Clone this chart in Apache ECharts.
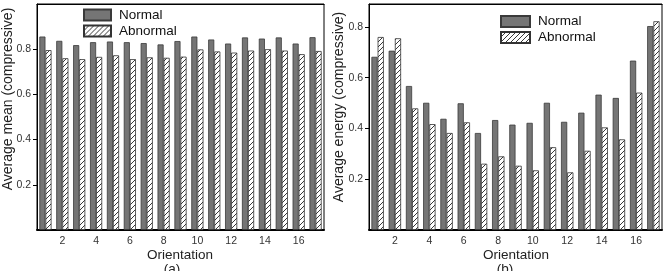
<!DOCTYPE html>
<html>
<head>
<meta charset="utf-8">
<script src="https://cdn.jsdelivr.net/npm/echarts@6/dist/echarts.min.js"></script>
<style>
html, body { margin: 0; padding: 0; background: #fff; }
#chart { width: 667px; height: 271px; }
</style>
</head>
<body>
<div id="chart"></div>
<script>
// orientation index 1..17
var orientations = ['1','2','3','4','5','6','7','8','9','10','11','12','13','14','15','16','17'];
// (a) average mean
var meanNormal   = [0.856,0.837,0.818,0.831,0.834,0.831,0.827,0.821,0.836,0.856,0.843,0.825,0.852,0.847,0.852,0.825,0.853];
var meanAbnormal = [0.796,0.760,0.756,0.766,0.773,0.756,0.764,0.762,0.767,0.799,0.790,0.785,0.794,0.800,0.794,0.778,0.792];
// (b) average energy
var energyNormal   = [0.682,0.706,0.567,0.501,0.438,0.499,0.382,0.433,0.415,0.422,0.501,0.426,0.462,0.533,0.520,0.667,0.803];
var energyAbnormal = [0.760,0.755,0.479,0.417,0.382,0.424,0.261,0.290,0.253,0.235,0.326,0.227,0.312,0.404,0.357,0.541,0.822];
var yTicks = [0.2, 0.4, 0.6, 0.8];

var FONT = 'Liberation Sans';

// hatch pattern for abnormal bars
function makeHatch() {
  var c = document.createElement('canvas');
  c.width = 5; c.height = 5;
  var ctx = c.getContext('2d');
  ctx.fillStyle = '#fff';
  ctx.fillRect(0, 0, 5, 5);
  ctx.strokeStyle = '#222';
  ctx.lineWidth = 0.9;
  ctx.beginPath();
  ctx.moveTo(-1, 6); ctx.lineTo(6, -1);
  ctx.moveTo(-1, 1); ctx.lineTo(1, -1);
  ctx.moveTo(4, 6); ctx.lineTo(6, 4);
  ctx.stroke();
  return c;
}
var hatch = { image: makeHatch(), repeat: 'repeat' };

var normalStyle = { color: '#757575', borderColor: '#3a3a3a', borderWidth: 0.8 };
var abnormalStyle = { color: hatch, borderColor: '#333', borderWidth: 0.8 };

function bottomAxis(grid) {
  return {
    type: 'category', gridIndex: grid, data: orientations,
    axisLine: { lineStyle: { color: '#000', width: 2 } },
    axisTick: { show: false },
    axisLabel: {
      interval: 0, margin: 6, color: '#333', fontSize: 10.5, fontFamily: FONT,
      formatter: function (v) { return (+v) % 2 === 0 ? v : ''; }
    }
  };
}
function topAxis(grid) {
  return {
    type: 'category', gridIndex: grid, position: 'top', data: orientations,
    axisLine: { lineStyle: { color: '#000', width: 1 } },
    axisTick: { inside: true, length: 3, alignWithLabel: true, interval: 0, lineStyle: { color: '#000' } },
    axisLabel: { show: false }
  };
}
function leftAxis(grid, max) {
  return {
    type: 'value', gridIndex: grid, min: 0, max: max,
    splitLine: { show: false },
    axisLine: { show: true, lineStyle: { color: '#000', width: 1 } },
    axisTick: { show: true, length: 4, customValues: yTicks, lineStyle: { color: '#000' } },
    axisLabel: {
      margin: 6, color: '#333', fontSize: 10.5, fontFamily: FONT, customValues: yTicks,
      formatter: function (v) { return v.toFixed(1); }
    }
  };
}

function legendAt(left, top, w) {
  return {
    left: left, top: top, padding: 0, orient: 'vertical', itemWidth: w, itemHeight: 11, itemGap: 2,
    icon: 'rect', data: ['Normal', 'Abnormal'],
    textStyle: { fontSize: 13.5, color: '#111', fontFamily: FONT, padding: [0, 0, 0, 3] }
  };
}

var chart = echarts.init(document.getElementById('chart'));
chart.setOption({
  animation: false,
  textStyle: { fontFamily: FONT },
  grid: [
    { left: 37, top: 4, width: 287, height: 226, show: true, borderColor: '#000', borderWidth: 1 },
    { left: 369, top: 4, width: 293, height: 226, show: true, borderColor: '#000', borderWidth: 1 }
  ],
  legend: [legendAt(83, 8, 27), legendAt(500, 14.5, 29)],
  xAxis: [bottomAxis(0), topAxis(0), bottomAxis(1), topAxis(1)],
  yAxis: [leftAxis(0, 1.0), leftAxis(1, 0.89)],
  series: [
    { name: 'Normal', type: 'bar', xAxisIndex: 0, yAxisIndex: 0, data: meanNormal,
      barGap: '0%', barCategoryGap: '28%', itemStyle: normalStyle },
    { name: 'Abnormal', type: 'bar', xAxisIndex: 0, yAxisIndex: 0, data: meanAbnormal,
      barGap: '0%', barCategoryGap: '28%', itemStyle: abnormalStyle },
    { name: 'Normal', type: 'bar', xAxisIndex: 2, yAxisIndex: 1, data: energyNormal,
      barGap: '0%', barCategoryGap: '28%', itemStyle: normalStyle },
    { name: 'Abnormal', type: 'bar', xAxisIndex: 2, yAxisIndex: 1, data: energyAbnormal,
      barGap: '0%', barCategoryGap: '28%', itemStyle: abnormalStyle }
  ],
  graphic: [
    { type: 'text', x: 8, y: 99, rotation: Math.PI / 2,
      style: { text: 'Average mean (compressive)', font: '14px "Liberation Sans"', fill: '#222', textAlign: 'center', textVerticalAlign: 'middle' } },
    { type: 'text', x: 339, y: 107, rotation: Math.PI / 2,
      style: { text: 'Average energy (compressive)', font: '14px "Liberation Sans"', fill: '#222', textAlign: 'center', textVerticalAlign: 'middle' } },
    { type: 'text', x: 180, y: 255,
      style: { text: 'Orientation', font: '13.5px "Liberation Sans"', fill: '#222', textAlign: 'center', textVerticalAlign: 'middle' } },
    { type: 'text', x: 516, y: 255,
      style: { text: 'Orientation', font: '13.5px "Liberation Sans"', fill: '#222', textAlign: 'center', textVerticalAlign: 'middle' } },
    { type: 'text', x: 172, y: 262,
      style: { text: '(a)', font: '13.5px "Liberation Sans"', fill: '#222', textAlign: 'center', textVerticalAlign: 'top' } },
    { type: 'text', x: 505, y: 262,
      style: { text: '(b)', font: '13.5px "Liberation Sans"', fill: '#222', textAlign: 'center', textVerticalAlign: 'top' } }
  ]
});
</script>
</body>
</html>
